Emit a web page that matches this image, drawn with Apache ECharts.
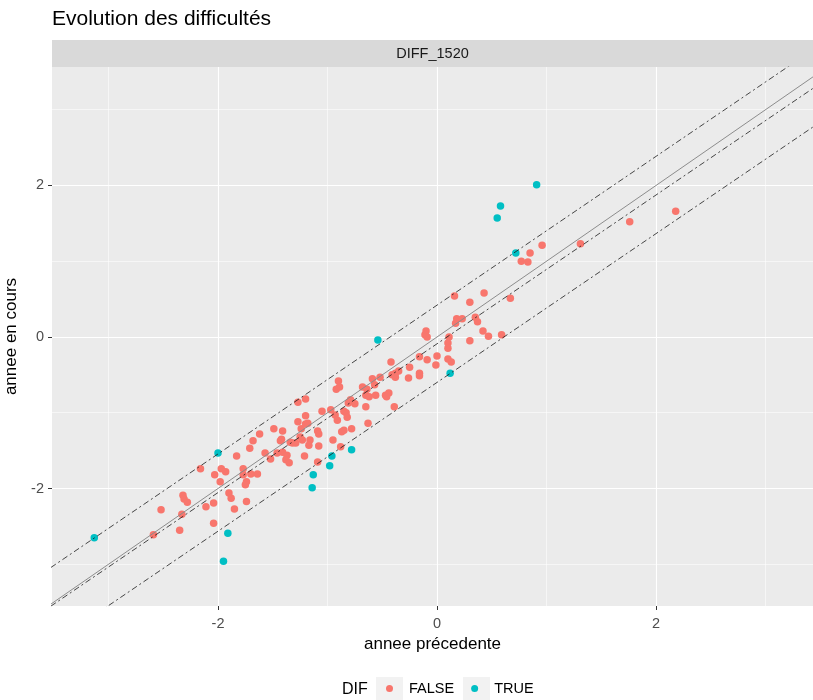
<!DOCTYPE html>
<html>
<head>
<meta charset="utf-8">
<script src="https://cdn.jsdelivr.net/npm/echarts@6/dist/echarts.min.js"></script>
<style>
  html, body { margin: 0; padding: 0; background: #ffffff; }
  #chart { width: 813px; height: 700px; }
</style>
</head>
<body>
<div id="chart"></div>
<script>
// Scores: previous year (x) vs current year (y), split by DIF flag
const prevFalse = [2.18, 1.76, 1.31, 0.96, 0.85, 0.77, 0.83, 0.16, 0.43, 0.30, 0.67, 0.35, 0.37, 0.17, 0.18, 0.23, 0.42, 0.47, 0.59, 0.30,
  0.11, -0.10, -0.11, -0.09, 0.10, 0.10, 0.00, -0.09, -0.01, 0.10, 0.13, -0.16, -0.42, -0.25, -0.16, -0.16, -0.26, -0.35, -0.38, -0.41,
  -0.38, -0.52, -0.59, -0.90, -0.92, -0.89, -0.68, -0.64, -0.65, -0.62, -0.57, -0.56, -0.47, -0.44, -0.46, -0.79, -0.81, -0.75, -0.65, -0.39,
  -1.27, -1.20, -1.05, -0.97, -0.93, -0.91, -0.85, -0.83, -0.82, -1.20, -1.27, -1.20, -1.18, -0.63, -1.49, -1.41, -1.24, -1.09, -1.08, -0.85,
  -0.87, -0.78, -1.62, -1.68, -1.43, -1.42, -1.34, -1.32, -1.29, -1.25, -1.23, -1.16, -1.17, -0.95, -0.88, -1.08, -1.71, -1.57, -1.46, -1.41,
  -1.37, -1.38, -1.35, -1.52, -1.21, -1.09, -1.83, -1.77, -1.77, -1.70, -1.64, -1.74, -1.75, -2.16, -2.03, -1.97, -1.93, -1.98, -1.90, -1.88,
  -1.85, -1.74, -2.04, -2.11, -2.32, -2.31, -2.28, -2.52, -2.33, -2.04, -2.35, -2.59];
const curFalse = [1.66, 1.52, 1.23, 1.21, 1.11, 1.00, 0.99, 0.54, 0.58, 0.46, 0.51, 0.26, 0.20, 0.18, 0.24, 0.24, 0.08, 0.01, 0.03, -0.05,
  0.00, 0.08, 0.03, 0.00, -0.08, -0.15, -0.25, -0.30, -0.37, -0.29, -0.33, -0.26, -0.33, -0.40, -0.48, -0.51, -0.54, -0.45, -0.48, -0.50,
  -0.53, -0.53, -0.55, -0.58, -0.69, -0.66, -0.66, -0.69, -0.77, -0.79, -0.63, -0.77, -0.77, -0.74, -0.79, -0.83, -0.87, -0.88, -0.92, -0.92,
  -0.86, -0.82, -0.98, -0.96, -1.03, -1.10, -0.98, -1.00, -1.06, -1.04, -1.12, -1.15, -1.14, -1.14, -1.21, -1.24, -1.21, -1.24, -1.28, -1.23,
  -1.25, -1.21, -1.28, -1.37, -1.37, -1.35, -1.39, -1.40, -1.40, -1.32, -1.36, -1.36, -1.43, -1.36, -1.45, -1.44, -1.47, -1.53, -1.53, -1.52,
  -1.56, -1.62, -1.66, -1.61, -1.57, -1.65, -1.57, -1.74, -1.82, -1.81, -1.81, -1.91, -1.95, -1.74, -1.82, -1.74, -1.78, -1.91, -2.06, -2.13,
  -2.27, -2.17, -2.19, -2.24, -2.09, -2.14, -2.18, -2.28, -2.34, -2.46, -2.55, -2.61];
const prevTrue = [-3.13, -2.00, -1.91, -1.95, -1.13, -1.14, -0.98, -0.96, -0.78, -0.54, 0.12, 0.72, 0.55, 0.58, 0.91];
const curTrue  = [-2.65, -1.53, -2.59, -2.96, -1.82, -1.99, -1.70, -1.57, -1.49, -0.04, -0.48, 1.11, 1.57, 1.73, 2.01];

// Reference lines y = a + b*x : identity, fitted line, and its upper / lower band
const refNames      = ['identite', 'ajustement', 'borne haute', 'borne basse'];
const refIntercepts = [0, -0.09, 0.42, -0.60];
const refSlopes     = [1, 0.982, 0.982, 0.982];

// Axis ranges and breaks
const xRange = [-3.516, 3.434];
const yRange = [-3.551, 3.564];
const majorBreaks = [-2, 0, 2];
const minorBreaks = [-3, -1, 1, 3];

const FONT = 'Arial, "Liberation Sans", sans-serif';
const COL_FALSE = '#F8766D';
const COL_TRUE = '#00BFC4';

const zip = (xs, ys) => xs.map((x, i) => [x, ys[i]]);

const refSeries = refNames.map((name, i) => {
  const a = refIntercepts[i], b = refSlopes[i];
  const isIdentity = i === 0;
  return {
    name: name,
    type: 'line',
    data: [[xRange[0] - 1, a + b * (xRange[0] - 1)], [xRange[1] + 1, a + b * (xRange[1] + 1)]],
    showSymbol: false,
    symbol: 'none',
    clip: true,
    silent: true,
    z: 5,
    lineStyle: isIdentity
      ? { color: '#8c8c8c', width: 1, type: 'solid' }
      : { color: '#1a1a1a', width: 0.8, type: [2, 3, 6, 3] }
  };
});

const chart = echarts.init(document.getElementById('chart'), null, { renderer: 'canvas' });

const axisCommon = {
  axisLine: { show: false, onZero: false },
  splitLine: { show: true, lineStyle: { color: '#ffffff', width: 1.1 } },
  axisTick: { show: true, length: 4, lineStyle: { color: '#333333', width: 1 }, customValues: majorBreaks },
  axisLabel: { color: '#4d4d4d', fontSize: 14.5, fontFamily: FONT, customValues: majorBreaks },
  nameTextStyle: { color: '#000000', fontSize: 17, fontFamily: FONT }
};
const minorAxis = {
  type: 'value',
  axisLine: { show: false, onZero: false },
  axisLabel: { show: false },
  axisTick: { show: false, customValues: minorBreaks },
  splitLine: { show: true, lineStyle: { color: '#ffffff', width: 0.55 } }
};

chart.setOption({
  animation: false,
  backgroundColor: '#ffffff',
  title: {
    text: 'Evolution des difficultés',
    left: 52, top: 9, padding: 0,
    textStyle: { color: '#000000', fontSize: 21, fontWeight: 'normal', fontFamily: FONT }
  },
  grid: {
    left: 52, right: 0, top: 67, bottom: 94,
    show: true, backgroundColor: '#EBEBEB', borderWidth: 0,
    containLabel: false,
    outerBoundsMode: 'none'
  },
  xAxis: [
    Object.assign({}, axisCommon, {
      type: 'value', min: xRange[0], max: xRange[1],
      name: 'annee précedente', nameLocation: 'middle', nameGap: 27,
      axisLabel: Object.assign({}, axisCommon.axisLabel, { margin: 10 })
    }),
    Object.assign({}, minorAxis, { min: xRange[0], max: xRange[1], position: 'top' })
  ],
  yAxis: [
    Object.assign({}, axisCommon, {
      type: 'value', min: yRange[0], max: yRange[1],
      name: 'annee en cours', nameLocation: 'middle', nameGap: 25,
      axisLabel: Object.assign({}, axisCommon.axisLabel, { margin: 8 })
    }),
    Object.assign({}, minorAxis, { min: yRange[0], max: yRange[1], position: 'right' })
  ],
  legend: {
    data: ['FALSE', 'TRUE'],
    orient: 'horizontal',
    left: 386, top: 681, padding: 0,
    icon: 'circle',
    itemWidth: 7, itemHeight: 7,
    itemGap: 17,
    textStyle: { color: '#000000', fontSize: 14.5, fontFamily: FONT, padding: [0, 0, 0, 11] }
  },
  graphic: [
    { type: 'rect', x: 52, y: 40, shape: { width: 761, height: 27 }, style: { fill: '#D9D9D9' }, silent: true, z: -1 },
    { type: 'text', x: 432.5, y: 54, style: { text: 'DIFF_1520', fill: '#1a1a1a', font: '14.5px ' + FONT, align: 'center', verticalAlign: 'middle' }, silent: true },
    { type: 'text', x: 342, y: 690, style: { text: 'DIF', fill: '#000000', font: '16px ' + FONT, align: 'left', verticalAlign: 'middle' }, silent: true },
    { type: 'rect', x: 376, y: 677, shape: { width: 27, height: 27 }, style: { fill: '#F2F2F2' }, silent: true, z: -1 },
    { type: 'rect', x: 463, y: 677, shape: { width: 27, height: 27 }, style: { fill: '#F2F2F2' }, silent: true, z: -1 }
  ],
  series: [
    {
      name: 'FALSE', type: 'scatter', data: zip(prevFalse, curFalse),
      symbol: 'circle', symbolSize: 7.5,
      itemStyle: { color: COL_FALSE, opacity: 1 }, z: 3
    },
    {
      name: 'TRUE', type: 'scatter', data: zip(prevTrue, curTrue),
      symbol: 'circle', symbolSize: 7.5,
      itemStyle: { color: COL_TRUE, opacity: 1 }, z: 3
    }
  ].concat(refSeries)
});
</script>
</body>
</html>
